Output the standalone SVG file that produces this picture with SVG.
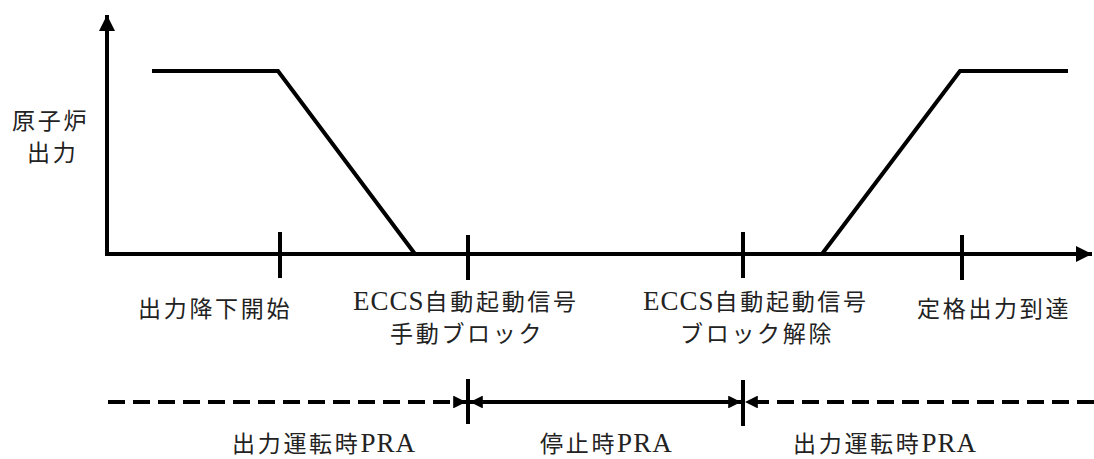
<svg xmlns="http://www.w3.org/2000/svg" width="1094" height="459" viewBox="0 0 1094 459">
<style>
.ln{stroke:#000;stroke-width:4;fill:none}
.tk{stroke:#000;stroke-width:4}
.ds{stroke:#000;stroke-width:4;fill:none;stroke-dasharray:17 8}
text{font-family:"Noto Sans CJK JP",sans-serif;font-size:23px;fill:#222;letter-spacing:2.7px}
.lat{font-family:"Liberation Serif",serif;font-size:27px;letter-spacing:1px}
</style>
<defs>
<marker id="ah" viewBox="0 0 10 10" refX="10" refY="5" markerWidth="3.2" markerHeight="3.2" orient="auto" markerUnits="strokeWidth">
<path d="M0,0 L10,5 L0,10 z" fill="#000"/>
</marker>
<marker id="big" viewBox="0 0 10 10" refX="10" refY="5" markerWidth="4" markerHeight="4" orient="auto" markerUnits="strokeWidth">
<path d="M0,0 L10,5 L0,10 z" fill="#000"/>
</marker>
</defs>
<rect width="1094" height="459" fill="#fff"/>
<g id="axes">
<line class="ln" x1="107" y1="256" x2="107" y2="15" marker-end="url(#big)"/>
<line class="ln" x1="105" y1="254" x2="1092" y2="254" marker-end="url(#big)"/>
<text x="12" y="129">原子炉</text>
<text x="27" y="161">出力</text>
</g>
<g id="curve">
<polyline class="ln" points="152,71 278,71 415,254"/>
<polyline class="ln" points="822,254 960,71 1068,71"/>
</g>
<g id="tick1">
<line class="tk" x1="280" y1="232" x2="280" y2="278"/>
<text x="138" y="317">出力降下開始</text>
</g>
<g id="tick2">
<line class="tk" x1="468" y1="235" x2="468" y2="280"/>
<text x="353" y="310"><tspan class="lat">ECCS</tspan>自動起動信号</text>
<text x="390" y="342">手動ブロック</text>
</g>
<g id="tick3">
<line class="tk" x1="743" y1="232" x2="743" y2="278"/>
<text x="643" y="310"><tspan class="lat">ECCS</tspan>自動起動信号</text>
<text x="680" y="342">ブロック解除</text>
</g>
<g id="tick4">
<line class="tk" x1="962" y1="235" x2="962" y2="280"/>
<text x="917" y="317">定格出力到達</text>
</g>
<g id="connectors">
<line class="tk" x1="468" y1="379" x2="468" y2="424"/>
<line class="tk" x1="743" y1="380" x2="743" y2="426"/>
<line class="ds" x1="108" y1="402" x2="466" y2="402" marker-end="url(#ah)"/>
<line class="ln" x1="600" y1="402" x2="470" y2="402" marker-end="url(#ah)"/>
<line class="ln" x1="600" y1="402" x2="741" y2="402" marker-end="url(#ah)"/>
<line class="ds" x1="1094" y1="402" x2="745" y2="402" marker-end="url(#ah)"/>
</g>
<g id="labels">
<text x="232" y="452">出力運転時<tspan class="lat">PRA</tspan></text>
<text x="540" y="452">停止時<tspan class="lat">PRA</tspan></text>
<text x="793" y="452">出力運転時<tspan class="lat">PRA</tspan></text>
</g>
</svg>
